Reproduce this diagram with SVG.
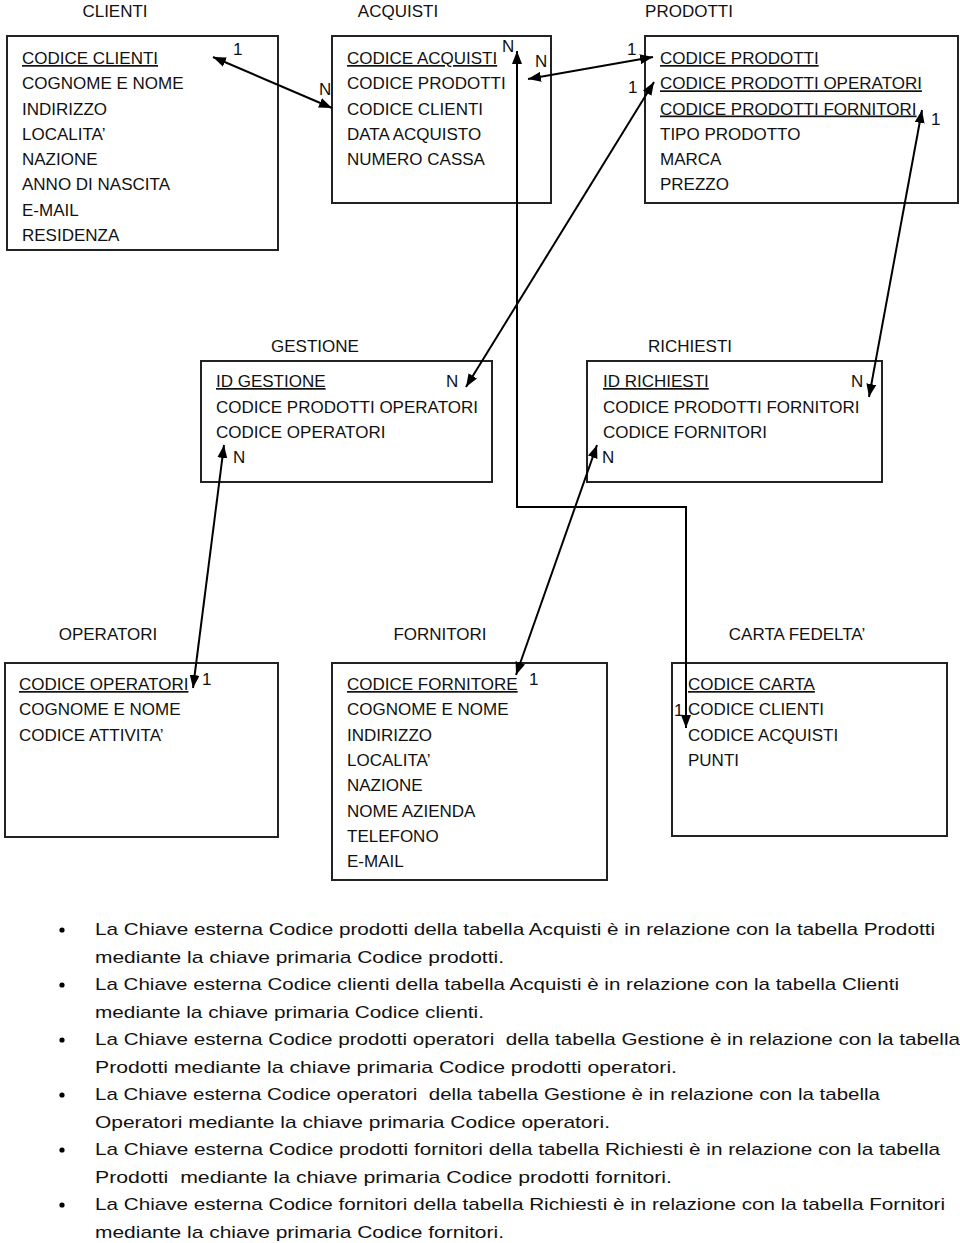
<svg xmlns="http://www.w3.org/2000/svg" width="960" height="1243" viewBox="0 0 960 1243">
<style>
text{font-family:"Liberation Sans",Arial,sans-serif;font-size:17px;fill:#111}
.t{text-anchor:middle}
.u{text-decoration:underline}
.box{fill:#fff;stroke:#222;stroke-width:2}
.c{fill:none;stroke:#000;stroke-width:2}
.b{white-space:pre}
</style>
<defs>
<marker id="ah" viewBox="0 0 13 10" refX="13" refY="5" markerWidth="13" markerHeight="10" markerUnits="userSpaceOnUse" orient="auto-start-reverse">
<path d="M0,0 L13,5 L0,10 z" fill="#000"/>
</marker>
</defs>
<rect width="960" height="1243" fill="#fff"/>

<g id="clienti">
<text class="t" x="115" y="17">CLIENTI</text>
<rect class="box" x="7" y="36" width="271" height="214"/>
<text class="u" x="22" y="64">CODICE CLIENTI</text>
<text x="22" y="89.3">COGNOME E NOME</text>
<text x="22" y="114.5">INDIRIZZO</text>
<text x="22" y="139.8">LOCALITA’</text>
<text x="22" y="165">NAZIONE</text>
<text x="22" y="190.3">ANNO DI NASCITA</text>
<text x="22" y="215.5">E-MAIL</text>
<text x="22" y="240.8">RESIDENZA</text>
</g>

<g id="acquisti">
<text class="t" x="398" y="17">ACQUISTI</text>
<rect class="box" x="332" y="36" width="219" height="167"/>
<text class="u" x="347" y="64">CODICE ACQUISTI</text>
<text x="347" y="89.3">CODICE PRODOTTI</text>
<text x="347" y="114.5">CODICE CLIENTI</text>
<text x="347" y="139.8">DATA ACQUISTO</text>
<text x="347" y="165">NUMERO CASSA</text>
</g>

<g id="prodotti">
<text class="t" x="689" y="17">PRODOTTI</text>
<rect class="box" x="645" y="36" width="313" height="167"/>
<text class="u" x="660" y="64">CODICE PRODOTTI</text>
<text class="u" x="660" y="89.3">CODICE PRODOTTI OPERATORI</text>
<text class="u" x="660" y="114.5">CODICE PRODOTTI FORNITORI</text>
<text x="660" y="139.8">TIPO PRODOTTO</text>
<text x="660" y="165">MARCA</text>
<text x="660" y="190.3">PREZZO</text>
</g>

<g id="gestione">
<text class="t" x="315" y="352">GESTIONE</text>
<rect class="box" x="201" y="361" width="291" height="121"/>
<text class="u" x="216" y="387">ID GESTIONE</text>
<text x="216" y="412.5">CODICE PRODOTTI OPERATORI</text>
<text x="216" y="438">CODICE OPERATORI</text>
</g>

<g id="richiesti">
<text class="t" x="690" y="352">RICHIESTI</text>
<rect class="box" x="587" y="361" width="295" height="121"/>
<text class="u" x="603" y="387">ID RICHIESTI</text>
<text x="603" y="412.5">CODICE PRODOTTI FORNITORI</text>
<text x="603" y="438">CODICE FORNITORI</text>
</g>

<g id="operatori">
<text class="t" x="108" y="640">OPERATORI</text>
<rect class="box" x="5" y="663" width="273" height="174"/>
<text class="u" x="19" y="690">CODICE OPERATORI</text>
<text x="19" y="715.3">COGNOME E NOME</text>
<text x="19" y="740.6">CODICE ATTIVITA’</text>
</g>

<g id="fornitori">
<text class="t" x="440" y="640">FORNITORI</text>
<rect class="box" x="332" y="663" width="275" height="217"/>
<text class="u" x="347" y="690">CODICE FORNITORE</text>
<text x="347" y="715.3">COGNOME E NOME</text>
<text x="347" y="740.6">INDIRIZZO</text>
<text x="347" y="766">LOCALITA’</text>
<text x="347" y="791.2">NAZIONE</text>
<text x="347" y="816.5">NOME AZIENDA</text>
<text x="347" y="841.8">TELEFONO</text>
<text x="347" y="867">E-MAIL</text>
</g>

<g id="carta_fedelta">
<text class="t" x="797" y="640">CARTA FEDELTA’</text>
<rect class="box" x="672" y="663" width="275" height="173"/>
<text class="u" x="688" y="690">CODICE CARTA</text>
<text x="688" y="715.3">CODICE CLIENTI</text>
<text x="688" y="740.6">CODICE ACQUISTI</text>
<text x="688" y="766">PUNTI</text>
</g>

<g id="connectors">
<line class="c" x1="213" y1="57" x2="332" y2="108" marker-start="url(#ah)" marker-end="url(#ah)"/>
<line class="c" x1="528" y1="79" x2="653" y2="57" marker-start="url(#ah)" marker-end="url(#ah)"/>
<polyline class="c" points="517,51 517,507 686,507 686,728" marker-start="url(#ah)" marker-end="url(#ah)"/>
<line class="c" x1="654" y1="82" x2="466" y2="387" marker-start="url(#ah)" marker-end="url(#ah)"/>
<line class="c" x1="922" y1="110" x2="869" y2="397" marker-start="url(#ah)" marker-end="url(#ah)"/>
<line class="c" x1="224" y1="445" x2="193" y2="688" marker-start="url(#ah)" marker-end="url(#ah)"/>
<line class="c" x1="597" y1="445" x2="516" y2="675" marker-start="url(#ah)" marker-end="url(#ah)"/>
<text x="233" y="55">1</text>
<text x="319" y="95">N</text>
<text x="502" y="52">N</text>
<text x="535" y="67">N</text>
<text x="627" y="55">1</text>
<text x="628" y="93">1</text>
<text x="931" y="125">1</text>
<text x="446" y="387">N</text>
<text x="233" y="463">N</text>
<text x="851" y="387">N</text>
<text x="602" y="463">N</text>
<text x="202" y="685">1</text>
<text x="529" y="685">1</text>
<text x="674" y="716">1</text>
</g>

<g id="notes">
<circle cx="62" cy="930" r="2.6" fill="#000"/>
<circle cx="62" cy="985" r="2.6" fill="#000"/>
<circle cx="62" cy="1040" r="2.6" fill="#000"/>
<circle cx="62" cy="1095" r="2.6" fill="#000"/>
<circle cx="62" cy="1150" r="2.6" fill="#000"/>
<circle cx="62" cy="1205" r="2.6" fill="#000"/>
<text class="b" x="95" y="935" textLength="840" lengthAdjust="spacingAndGlyphs">La Chiave esterna Codice prodotti della tabella Acquisti è in relazione con la tabella Prodotti</text>
<text class="b" x="95" y="962.5" textLength="409" lengthAdjust="spacingAndGlyphs">mediante la chiave primaria Codice prodotti.</text>
<text class="b" x="95" y="990" textLength="804" lengthAdjust="spacingAndGlyphs">La Chiave esterna Codice clienti della tabella Acquisti è in relazione con la tabella Clienti</text>
<text class="b" x="95" y="1017.5" textLength="389" lengthAdjust="spacingAndGlyphs">mediante la chiave primaria Codice clienti.</text>
<text class="b" x="95" y="1045" textLength="865" lengthAdjust="spacingAndGlyphs">La Chiave esterna Codice prodotti operatori  della tabella Gestione è in relazione con la tabella</text>
<text class="b" x="95" y="1072.5" textLength="582" lengthAdjust="spacingAndGlyphs">Prodotti mediante la chiave primaria Codice prodotti operatori.</text>
<text class="b" x="95" y="1100" textLength="785" lengthAdjust="spacingAndGlyphs">La Chiave esterna Codice operatori  della tabella Gestione è in relazione con la tabella</text>
<text class="b" x="95" y="1127.5" textLength="515" lengthAdjust="spacingAndGlyphs">Operatori mediante la chiave primaria Codice operatori.</text>
<text class="b" x="95" y="1155" textLength="845" lengthAdjust="spacingAndGlyphs">La Chiave esterna Codice prodotti fornitori della tabella Richiesti è in relazione con la tabella</text>
<text class="b" x="95" y="1182.5" textLength="577" lengthAdjust="spacingAndGlyphs">Prodotti  mediante la chiave primaria Codice prodotti fornitori.</text>
<text class="b" x="95" y="1210" textLength="850" lengthAdjust="spacingAndGlyphs">La Chiave esterna Codice fornitori della tabella Richiesti è in relazione con la tabella Fornitori</text>
<text class="b" x="95" y="1237.5" textLength="409" lengthAdjust="spacingAndGlyphs">mediante la chiave primaria Codice fornitori.</text>
</g>
</svg>
